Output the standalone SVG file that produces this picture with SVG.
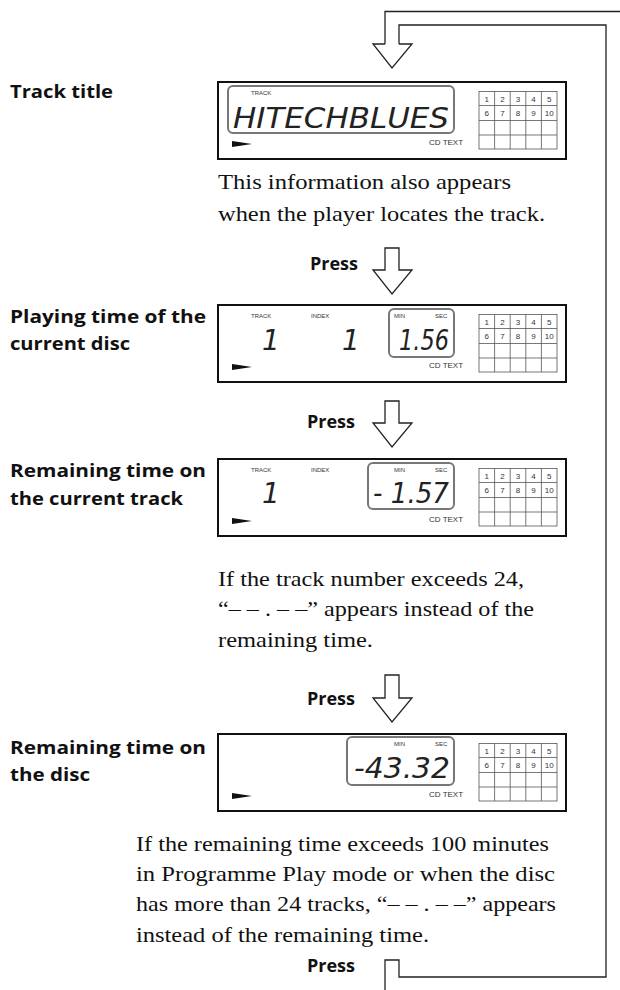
<svg xmlns="http://www.w3.org/2000/svg" width="620" height="990" viewBox="0 0 620 990">
<style>
.lbl{font-family:"Open Sans",sans-serif;font-weight:700;font-size:18.5px;fill:#111}
.press{font-family:"Open Sans",sans-serif;font-weight:700;font-size:18px;fill:#111;text-anchor:end}
.txt{font-family:"Liberation Serif",serif;font-size:21px;fill:#111}
.box{fill:#fff;stroke:#111;stroke-width:2}
.hl{fill:none;stroke:#777;stroke-width:2}
.sm{font-family:"Liberation Sans",sans-serif;font-size:6px;fill:#333}
.cd{font-family:"Liberation Sans",sans-serif;font-size:8px;fill:#333}
.gn{font-family:"Liberation Sans",sans-serif;font-size:8px;fill:#333;text-anchor:middle}
.seg{font-family:"DejaVu Sans",sans-serif;font-style:italic;font-weight:100;font-size:28px;fill:#222}
.grid{fill:none;stroke:#555;stroke-width:0.8}
.ln{fill:none;stroke:#222;stroke-width:1.3}
.ar{fill:#fff;stroke:#222;stroke-width:1.3}
</style>
<defs>
<g id="grid">
<rect class="grid" x="0" y="0" width="78" height="57.5"/>
<path class="grid" d="M15.6,0V57.5M31.2,0V57.5M46.8,0V57.5M62.4,0V57.5M0,14H78M0,29H78M0,43.5H78"/>
<text class="gn" x="7.8" y="10">1</text><text class="gn" x="23.4" y="10">2</text><text class="gn" x="39" y="10">3</text><text class="gn" x="54.6" y="10">4</text><text class="gn" x="70.2" y="10">5</text>
<text class="gn" x="7.8" y="24">6</text><text class="gn" x="23.4" y="24">7</text><text class="gn" x="39" y="24">8</text><text class="gn" x="54.6" y="24">9</text><text class="gn" x="70.2" y="24">10</text>
</g>
<g id="base">
<rect class="box" x="0" y="0" width="348" height="77"/>
<path d="M14,59 L34,62 L14,65Z" fill="#111"/>
<text class="cd" x="211" y="63">CD TEXT</text>
<use href="#grid" x="261" y="9.5"/>
</g>
</defs>

<g id="connectors">
<path class="ln" d="M620,11.5H385V44"/>
<path class="ar" d="M399,44V25H606V977H399V960H385V990"/>
<path class="ar" d="M385,44L373,44L392,68L412,44L399,44"/>
<path class="ar" d="M385,248V270H373L392,294L412,270H399V248Z"/>
<path class="ar" d="M385,401V423H373L392,447L412,423H399V401Z"/>
<path class="ar" d="M385,675V698H373L392,722L412,698H399V675Z"/>
</g>

<g id="labels">
<text class="lbl" x="10" y="98" textLength="103" lengthAdjust="spacingAndGlyphs">Track title</text>
<text class="lbl" x="10" y="323" textLength="196" lengthAdjust="spacingAndGlyphs">Playing time of the</text>
<text class="lbl" x="10" y="350" textLength="120" lengthAdjust="spacingAndGlyphs">current disc</text>
<text class="lbl" x="10" y="477" textLength="196" lengthAdjust="spacingAndGlyphs">Remaining time on</text>
<text class="lbl" x="10" y="505" textLength="173" lengthAdjust="spacingAndGlyphs">the current track</text>
<text class="lbl" x="10" y="754" textLength="196" lengthAdjust="spacingAndGlyphs">Remaining time on</text>
<text class="lbl" x="10" y="781" textLength="80" lengthAdjust="spacingAndGlyphs">the disc</text>
<text class="press" x="358" y="270">Press</text>
<text class="press" x="355" y="428">Press</text>
<text class="press" x="355" y="705">Press</text>
<text class="press" x="355" y="972">Press</text>
</g>

<g id="display1" transform="translate(218,82)">
<use href="#base"/>
<rect class="hl" x="10" y="4" width="226" height="47" rx="5"/>
<text class="sm" x="33" y="13">TRACK</text>
<text class="seg" x="15" y="46" textLength="216" lengthAdjust="spacingAndGlyphs">HITECHBLUES</text>
</g>

<g id="display2" transform="translate(218,305)">
<use href="#base"/>
<rect class="hl" x="171" y="4" width="65" height="48" rx="5"/>
<text class="sm" x="33" y="13">TRACK</text>
<text class="sm" x="93" y="13">INDEX</text>
<text class="sm" x="176" y="13">MIN</text>
<text class="sm" x="217" y="13">SEC</text>
<text class="seg" x="44" y="45">1</text>
<text class="seg" x="124" y="45">1</text>
<text class="seg" x="181" y="45" textLength="50" lengthAdjust="spacingAndGlyphs">1.56</text>
</g>

<g id="display3" transform="translate(218,459)">
<use href="#base"/>
<rect class="hl" x="150" y="4" width="86" height="46" rx="5"/>
<text class="sm" x="33" y="13">TRACK</text>
<text class="sm" x="93" y="13">INDEX</text>
<text class="sm" x="176" y="13">MIN</text>
<text class="sm" x="217" y="13">SEC</text>
<text class="seg" x="44" y="44">1</text>
<text class="seg" x="155" y="44" textLength="76" lengthAdjust="spacingAndGlyphs">- 1.57</text>
</g>

<g id="display4" transform="translate(218,734)">
<use href="#base"/>
<rect class="hl" x="129" y="3" width="107" height="48" rx="5"/>
<text class="sm" x="176" y="12">MIN</text>
<text class="sm" x="217" y="12">SEC</text>
<text class="seg" x="136" y="44" textLength="96" lengthAdjust="spacingAndGlyphs">-43.32</text>
</g>

<g id="notes">
<text class="txt" x="218" y="189" textLength="293" lengthAdjust="spacingAndGlyphs">This information also appears</text>
<text class="txt" x="218" y="221" textLength="327" lengthAdjust="spacingAndGlyphs">when the player locates the track.</text>
<text class="txt" x="218" y="586" textLength="306" lengthAdjust="spacingAndGlyphs">If the track number exceeds 24,</text>
<text class="txt" x="218" y="616" textLength="316" lengthAdjust="spacingAndGlyphs">“– – . – –” appears instead of the</text>
<text class="txt" x="218" y="647" textLength="155" lengthAdjust="spacingAndGlyphs">remaining time.</text>
<text class="txt" x="136" y="851" textLength="413" lengthAdjust="spacingAndGlyphs">If the remaining time exceeds 100 minutes</text>
<text class="txt" x="136" y="881" textLength="419" lengthAdjust="spacingAndGlyphs">in Programme Play mode or when the disc</text>
<text class="txt" x="136" y="911" textLength="420" lengthAdjust="spacingAndGlyphs">has more than 24 tracks, “– – . – –” appears</text>
<text class="txt" x="136" y="942" textLength="293" lengthAdjust="spacingAndGlyphs">instead of the remaining time.</text>
</g>
</svg>
